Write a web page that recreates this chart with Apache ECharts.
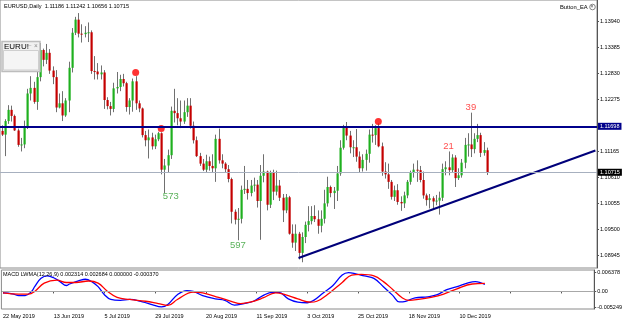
<!DOCTYPE html>
<html>
<head>
<meta charset="utf-8">
<title>EURUSD,Daily</title>
<script src="https://cdn.jsdelivr.net/npm/echarts@6/dist/echarts.min.js"></script>
<style>
html, body { margin: 0; padding: 0; background: #fff; }
#chart { width: 625px; height: 320px; }
</style>
</head>
<body>
<div id="chart"></div>
<script>
// ---------------- 数据 ----------------
// 日线 K 线: [open, high, low, close]，从 2019-05-22 开始
var candles = [
    [1.1160, 1.1172, 1.1149, 1.1152], [1.1152, 1.1185, 1.1106, 1.1181], [1.1181, 1.1215, 1.1175, 1.1205],
    [1.1205, 1.1214, 1.1180, 1.1192], [1.1192, 1.1195, 1.1160, 1.1161], [1.1161, 1.1165, 1.1126, 1.1130],
    [1.1130, 1.1145, 1.1116, 1.1131], [1.1131, 1.1182, 1.1123, 1.1170], [1.1170, 1.1250, 1.1164, 1.1240],
    [1.1240, 1.1277, 1.1225, 1.1252], [1.1252, 1.1265, 1.1218, 1.1222], [1.1222, 1.1289, 1.1205, 1.1275],
    [1.1275, 1.1348, 1.1266, 1.1333], [1.1333, 1.1336, 1.1298, 1.1312], [1.1312, 1.1346, 1.1303, 1.1327],
    [1.1327, 1.1335, 1.1282, 1.1289], [1.1289, 1.1298, 1.1260, 1.1275], [1.1275, 1.1290, 1.1200, 1.1210],
    [1.1210, 1.1240, 1.1208, 1.1219], [1.1219, 1.1245, 1.1181, 1.1193], [1.1193, 1.1230, 1.1190, 1.1225],
    [1.1225, 1.1308, 1.1200, 1.1295], [1.1295, 1.1380, 1.1285, 1.1370], [1.1370, 1.1404, 1.1365, 1.1398],
    [1.1398, 1.1412, 1.1360, 1.1368], [1.1368, 1.1388, 1.1349, 1.1367], [1.1367, 1.1384, 1.1360, 1.1370],
    [1.1370, 1.1392, 1.1350, 1.1371], [1.1371, 1.1375, 1.1282, 1.1288], [1.1288, 1.1320, 1.1270, 1.1287],
    [1.1287, 1.1305, 1.1270, 1.1281], [1.1281, 1.1300, 1.1270, 1.1285], [1.1285, 1.1290, 1.1207, 1.1226],
    [1.1226, 1.1232, 1.1206, 1.1213], [1.1213, 1.1222, 1.1193, 1.1207], [1.1207, 1.1263, 1.1200, 1.1251],
    [1.1251, 1.1286, 1.1240, 1.1254], [1.1254, 1.1280, 1.1245, 1.1271], [1.1271, 1.1282, 1.1255, 1.1262],
    [1.1262, 1.1265, 1.1201, 1.1211], [1.1211, 1.1230, 1.1195, 1.1225], [1.1225, 1.1272, 1.1201, 1.1266],
    [1.1266, 1.1277, 1.1205, 1.1219], [1.1219, 1.1225, 1.1200, 1.1208], [1.1208, 1.1210, 1.1146, 1.1151],
    [1.1151, 1.1160, 1.1127, 1.1140], [1.1140, 1.1163, 1.1101, 1.1146], [1.1146, 1.1156, 1.1120, 1.1127],
    [1.1127, 1.1152, 1.1121, 1.1142], [1.1142, 1.1158, 1.1138, 1.1155], [1.1155, 1.1157, 1.1067, 1.1077],
    [1.1077, 1.1100, 1.1027, 1.1086], [1.1086, 1.1120, 1.1070, 1.1108], [1.1108, 1.1212, 1.1100, 1.1203],
    [1.1203, 1.1250, 1.1178, 1.1198], [1.1198, 1.1230, 1.1172, 1.1187], [1.1187, 1.1225, 1.1166, 1.1180],
    [1.1180, 1.1225, 1.1175, 1.1200], [1.1200, 1.1230, 1.1190, 1.1214], [1.1214, 1.1230, 1.1165, 1.1171],
    [1.1171, 1.1180, 1.1133, 1.1140], [1.1140, 1.1148, 1.1104, 1.1106], [1.1106, 1.1113, 1.1085, 1.1090],
    [1.1090, 1.1100, 1.1074, 1.1077], [1.1077, 1.1109, 1.1070, 1.1095], [1.1095, 1.1105, 1.1075, 1.1085],
    [1.1085, 1.1110, 1.1070, 1.1080], [1.1080, 1.1152, 1.1051, 1.1143], [1.1143, 1.1165, 1.1090, 1.1097],
    [1.1097, 1.1110, 1.1080, 1.1090], [1.1090, 1.1093, 1.1072, 1.1078], [1.1078, 1.1087, 1.1050, 1.1057],
    [1.1057, 1.1060, 1.0962, 1.0987], [1.0987, 1.0992, 1.0960, 1.0970], [1.0970, 1.0995, 1.0926, 1.0972],
    [1.0972, 1.1043, 1.0962, 1.1034], [1.1034, 1.1085, 1.1025, 1.1036], [1.1036, 1.1055, 1.1013, 1.1027],
    [1.1027, 1.1055, 1.1020, 1.1043], [1.1043, 1.1060, 1.1030, 1.1045], [1.1045, 1.1055, 1.0996, 1.1010],
    [1.1010, 1.1087, 1.0927, 1.1064], [1.1064, 1.1110, 1.1050, 1.1073], [1.1073, 1.1075, 1.0990, 1.1002],
    [1.1002, 1.1075, 1.0995, 1.1071], [1.1071, 1.1077, 1.1012, 1.1030], [1.1030, 1.1075, 1.1022, 1.1043],
    [1.1043, 1.1055, 1.1010, 1.1017], [1.1017, 1.1025, 1.0965, 1.0990], [1.0990, 1.1025, 1.0984, 1.1018],
    [1.1018, 1.1021, 1.0938, 1.0940], [1.0940, 1.0960, 1.0910, 1.0921], [1.0921, 1.0960, 1.0903, 1.0940],
    [1.0940, 1.0944, 1.0885, 1.0899], [1.0899, 1.0943, 1.0879, 1.0933], [1.0933, 1.0966, 1.0920, 1.0959],
    [1.0959, 1.0999, 1.0945, 1.0967], [1.0967, 1.0999, 1.0960, 1.0978], [1.0978, 1.1001, 1.0965, 1.0971],
    [1.0971, 1.0990, 1.0940, 1.0957], [1.0957, 1.0990, 1.0943, 1.0972], [1.0972, 1.1034, 1.0962, 1.1005],
    [1.1005, 1.1062, 1.0998, 1.1040], [1.1040, 1.1043, 1.1018, 1.1027], [1.1027, 1.1040, 1.0993, 1.1032],
    [1.1032, 1.1085, 1.1010, 1.1069], [1.1069, 1.1140, 1.1064, 1.1124], [1.1124, 1.1173, 1.1120, 1.1168],
    [1.1168, 1.1179, 1.1140, 1.1150], [1.1150, 1.1160, 1.1112, 1.1125], [1.1125, 1.1140, 1.1104, 1.1125],
    [1.1125, 1.1164, 1.1094, 1.1105], [1.1105, 1.1116, 1.1072, 1.1080], [1.1080, 1.1110, 1.1073, 1.1098],
    [1.1098, 1.1120, 1.1075, 1.1111], [1.1111, 1.1163, 1.1092, 1.1152], [1.1152, 1.1175, 1.1135, 1.1151],
    [1.1151, 1.1172, 1.1130, 1.1166], [1.1166, 1.1176, 1.1125, 1.1127], [1.1127, 1.1135, 1.1064, 1.1073],
    [1.1073, 1.1093, 1.1058, 1.1067], [1.1067, 1.1090, 1.1036, 1.1051], [1.1051, 1.1055, 1.1013, 1.1019],
    [1.1019, 1.1043, 1.1010, 1.1033], [1.1033, 1.1046, 1.1002, 1.1008], [1.1008, 1.1020, 1.0989, 1.1005],
    [1.1005, 1.1030, 1.0995, 1.1022], [1.1022, 1.1055, 1.1016, 1.1051], [1.1051, 1.1075, 1.1045, 1.1071],
    [1.1071, 1.1090, 1.1060, 1.1077], [1.1077, 1.1097, 1.1051, 1.1076], [1.1076, 1.1085, 1.1050, 1.1055],
    [1.1055, 1.1073, 1.1015, 1.1022], [1.1022, 1.1026, 1.1000, 1.1012], [1.1012, 1.1025, 1.0994, 1.1016],
    [1.1016, 1.1020, 1.0991, 1.1009], [1.1009, 1.1023, 1.1001, 1.1011], [1.1011, 1.1030, 1.0981, 1.1017],
    [1.1017, 1.1090, 1.1010, 1.1078], [1.1078, 1.1095, 1.1065, 1.1082], [1.1082, 1.1116, 1.1065, 1.1076],
    [1.1076, 1.1110, 1.1071, 1.1103], [1.1103, 1.1108, 1.1040, 1.1059], [1.1059, 1.1080, 1.1055, 1.1065],
    [1.1065, 1.1100, 1.1060, 1.1092], [1.1092, 1.1145, 1.1080, 1.1130], [1.1130, 1.1155, 1.1105, 1.1131],
    [1.1131, 1.1199, 1.1104, 1.1121], [1.1121, 1.1155, 1.1112, 1.1143], [1.1143, 1.1175, 1.1136, 1.1151],
    [1.1151, 1.1156, 1.1104, 1.1113], [1.1113, 1.1136, 1.1107, 1.1119], [1.11186, 1.11242, 1.10656, 1.10715]
];

// 右侧价格刻度
var priceTicks = [1.08945, 1.09500, 1.10055, 1.10610, 1.11165, 1.12275, 1.12830, 1.13385, 1.13940];
var levelPrice = 1.11698;   // 水平阻力线
var bidPrice = 1.10715;     // 当前价

// 趋势线两端 [bar, price]
var trendPoints = [[93, 1.0888], [186, 1.1118]];

// 红点标记
var dotBars = [42, 50, 118];
var dotPrices = [1.1285, 1.1165, 1.1180];

// 计数标签
var greenText = ['573', '597'];
var greenBars = [53, 74];
var greenPrices = [1.1019, 1.0916];
var redText = ['21', '39'];
var redBars = [140, 147];
var redPrices = [1.1126, 1.1211];

// MACD LWMA(12,26,9)  [bar, value]
var macdMain = [
    [0, -0.0005], [3, -0.0008], [5, -0.0014], [7, -0.0014], [9, 0.0000], [10, 0.0016], [12, 0.0044],
    [14, 0.0052], [16, 0.0046], [18, 0.0033], [20, 0.0020], [21, 0.0025], [24, 0.0036], [26, 0.0041],
    [28, 0.0033], [30, 0.0016], [32, -0.0011], [34, -0.0027], [37, -0.0030], [40, -0.0027], [44, -0.0035],
    [47, -0.0044], [50, -0.0052], [52, -0.0044], [55, -0.0011], [58, 0.0003], [60, 0.0000], [63, -0.0014],
    [67, -0.0025], [70, -0.0030], [73, -0.0046], [76, -0.0041], [79, -0.0033], [82, -0.0014], [85, -0.0003],
    [87, -0.0003], [90, -0.0025], [93, -0.0036], [96, -0.0038], [98, -0.0030], [101, -0.0005], [104, 0.0019],
    [107, 0.0055], [109, 0.0063], [111, 0.0060], [114, 0.0052], [117, 0.0044], [120, 0.0016], [123, -0.0014],
    [125, -0.0035], [127, -0.0033], [130, -0.0022], [134, -0.0018], [137, -0.0011], [140, 0.0006],
    [144, 0.0019], [147, 0.0030], [149, 0.0033], [152, 0.002314]
];
var macdSignal = [
    [0, -0.0005], [5, -0.0009], [8, -0.0009], [10, 0.0000], [13, 0.0028], [17, 0.0038], [20, 0.0030],
    [23, 0.0030], [27, 0.0035], [30, 0.0028], [33, 0.0000], [36, -0.0020], [40, -0.0027], [45, -0.0033],
    [49, -0.0041], [52, -0.0047], [55, -0.0027], [60, -0.0002], [63, -0.0005], [68, -0.0020], [72, -0.0033],
    [75, -0.0041], [78, -0.0036], [82, -0.0022], [86, -0.0005], [89, -0.0011], [93, -0.0025], [97, -0.0036],
    [99, -0.0033], [103, -0.0005], [107, 0.0030], [110, 0.0055], [113, 0.0057], [117, 0.0052], [120, 0.0033],
    [123, 0.0006], [126, -0.0022], [128, -0.0030], [131, -0.0027], [135, -0.0020], [139, -0.0009],
    [143, 0.0008], [148, 0.0025], [152, 0.002684]
];
var macdTicks = [0.006378, 0, -0.005249];

// ---------------- 日期 ----------------
var monthNames = ['Jan', 'Feb', 'Mar', 'Apr', 'May', 'Jun', 'Jul', 'Aug', 'Sep', 'Oct', 'Nov', 'Dec'];
var dates = [];
for (var t = Date.UTC(2019, 4, 22); dates.length < candles.length; t += 86400000) {
    var d = new Date(t);
    if (d.getUTCDay() === 0 || d.getUTCDay() === 6) continue;
    dates.push(d.getUTCDate() + ' ' + monthNames[d.getUTCMonth()] + ' ' + d.getUTCFullYear());
}
var emptySlots = 34; // 右侧留白，趋势线延伸
var categories = dates.concat(new Array(emptySlots).fill(''));

var font = '"Liberation Sans", Arial, sans-serif';
var small = 5.5;

var candleData = candles.map(function (r, i) {
    return [i, r[0], r[1], r[2], r[3]];
});

function renderCandle(params, api) {
    var i = api.value(0);
    var o = api.value(1), h = api.value(2), l = api.value(3), c = api.value(4);
    var pH = api.coord([i, h]), pL = api.coord([i, l]);
    var pO = api.coord([i, o]), pC = api.coord([i, c]);
    var x = Math.round(pH[0]);
    var y1 = Math.min(pO[1], pC[1]), y2 = Math.max(pO[1], pC[1]);
    var up = c >= o;
    return {
        type: 'group',
        children: [{
            type: 'line',
            shape: { x1: x + 0.5, y1: pH[1], x2: x + 0.5, y2: pL[1] },
            style: { stroke: '#707070', lineWidth: 1 }
        }, {
            type: 'rect',
            shape: { x: x - 0.5, y: y1, width: 2.2, height: Math.max(y2 - y1, 1) },
            style: { fill: up ? '#1fb01f' : '#c40000' }
        }]
    };
}

var chart = echarts.init(document.getElementById('chart'));

var option = {
    animation: false,
    backgroundColor: '#fff',
    textStyle: { fontFamily: font },
    grid: [
        { left: 0, right: 28, top: 0, height: 268, show: true, borderColor: '#8a8a8a', borderWidth: 1 },
        { left: 0, right: 28, top: 270, height: 39, show: true, borderColor: '#8a8a8a', borderWidth: 1 }
    ],
    xAxis: [{
        type: 'category',
        gridIndex: 0,
        data: categories,
        boundaryGap: true,
        axisLine: { show: false },
        axisTick: { show: false },
        axisLabel: { show: false },
        splitLine: { show: false }
    }, {
        type: 'category',
        gridIndex: 1,
        data: categories,
        boundaryGap: true,
        axisLine: { show: true, lineStyle: { color: '#555' } },
        axisTick: { show: true, interval: 15, alignWithLabel: true, length: 2, lineStyle: { color: '#555' } },
        axisLabel: { interval: 15, align: 'left', fontSize: small, color: '#000', margin: 4, fontFamily: font },
        splitLine: { show: false }
    }],
    yAxis: [{
        type: 'value',
        gridIndex: 0,
        position: 'right',
        min: 1.08667,
        max: 1.14400,
        axisLine: { show: true, lineStyle: { color: '#555' } },
        axisTick: { show: true, length: 2, customValues: priceTicks, lineStyle: { color: '#555' } },
        axisLabel: {
            customValues: priceTicks,
            formatter: function (v) { return v.toFixed(5); },
            fontSize: small, color: '#000', margin: 3, fontFamily: font
        },
        splitLine: { show: false }
    }, {
        type: 'value',
        gridIndex: 1,
        position: 'right',
        min: -0.0059,
        max: 0.0072,
        axisLine: { show: true, lineStyle: { color: '#555' } },
        axisTick: { show: true, length: 2, customValues: macdTicks, lineStyle: { color: '#555' } },
        axisLabel: {
            customValues: macdTicks,
            formatter: function (v) { return v === 0 ? '0.00' : v.toFixed(6); },
            fontSize: small, color: '#000', margin: 3, fontFamily: font
        },
        splitLine: { show: false }
    }],
    series: [{
        name: 'EURUSD',
        type: 'custom',
        xAxisIndex: 0,
        yAxisIndex: 0,
        renderItem: renderCandle,
        encode: { x: 0, y: [1, 2, 3, 4] },
        data: candleData,
        clip: true,
        silent: true
    }, {
        name: '趋势线',
        type: 'line',
        xAxisIndex: 0,
        yAxisIndex: 0,
        data: trendPoints,
        symbol: 'none',
        silent: true,
        lineStyle: { color: '#00007a', width: 2 },
        markLine: {
            symbol: 'none',
            silent: true,
            precision: 5,
            data: [{
                yAxis: levelPrice,
                lineStyle: { color: '#00008b', width: 2, type: 'solid' },
                label: {
                    show: true, position: 'end', distance: 1,
                    formatter: levelPrice.toFixed(5),
                    backgroundColor: '#00008b', color: '#fff',
                    padding: [1, 2, 0, 2], fontSize: small, fontFamily: font
                }
            }, {
                yAxis: bidPrice,
                lineStyle: { color: '#a7b0bf', width: 1, type: 'solid' },
                label: {
                    show: true, position: 'end', distance: 1,
                    formatter: bidPrice.toFixed(5),
                    backgroundColor: '#000', color: '#fff',
                    padding: [1, 2, 0, 2], fontSize: small, fontFamily: font
                }
            }]
        }
    }, {
        name: '红点',
        type: 'scatter',
        xAxisIndex: 0,
        yAxisIndex: 0,
        data: dotBars.map(function (b, k) { return [b, dotPrices[k]]; }),
        symbolSize: 7,
        itemStyle: { color: '#ff0000' },
        silent: true
    }, {
        name: '计数-绿',
        type: 'scatter',
        xAxisIndex: 0,
        yAxisIndex: 0,
        data: greenBars.map(function (b, k) { return { value: [b, greenPrices[k]], name: greenText[k] }; }),
        symbolSize: 1,
        itemStyle: { color: 'rgba(0,0,0,0)' },
        label: {
            show: true, position: 'inside', formatter: '{b}',
            color: '#2f9e2f', fontSize: 9.5, fontFamily: font
        },
        silent: true
    }, {
        name: '计数-红',
        type: 'scatter',
        xAxisIndex: 0,
        yAxisIndex: 0,
        data: redBars.map(function (b, k) { return { value: [b, redPrices[k]], name: redText[k] }; }),
        symbolSize: 1,
        itemStyle: { color: 'rgba(0,0,0,0)' },
        label: {
            show: true, position: 'inside', formatter: '{b}',
            color: '#ff2020', fontSize: 9.5, fontFamily: font
        },
        silent: true
    }, {
        name: 'MACD',
        type: 'line',
        xAxisIndex: 1,
        yAxisIndex: 1,
        data: macdMain,
        smooth: 0.4,
        symbol: 'none',
        lineStyle: { color: '#0000ff', width: 1.3 },
        markLine: {
            symbol: 'none',
            silent: true,
            label: { show: false },
            data: [{ yAxis: 0, lineStyle: { color: '#a8a8a8', width: 1, type: 'solid' } }]
        },
        silent: true
    }, {
        name: 'Signal',
        type: 'line',
        xAxisIndex: 1,
        yAxisIndex: 1,
        data: macdSignal,
        smooth: 0.4,
        symbol: 'none',
        lineStyle: { color: '#ff0000', width: 1.3 },
        silent: true
    }],
    graphic: [{
        type: 'text', left: 4, top: 3, z: 100,
        style: { text: 'EURUSD,Daily  1.11186 1.11242 1.10656 1.10715', fontSize: 5.6, fill: '#000', fontFamily: font }
    }, {
        type: 'text', left: 560, top: 4, z: 100,
        style: { text: 'Button_EA', fontSize: 5.8, fill: '#000', fontFamily: font }
    }, {
        type: 'circle', z: 100,
        shape: { cx: 592.5, cy: 7, r: 2.8 },
        style: { fill: '#fff', stroke: '#666', lineWidth: 0.8 }
    }, {
        type: 'text', left: 590.6, top: 4.3, z: 101,
        style: { text: '×', fontSize: 5, fill: '#444', fontFamily: font }
    }, {
        // EA 面板
        type: 'rect', z: 100,
        shape: { x: 2, y: 41.5, width: 38, height: 30 },
        style: { fill: '#f0f0f0', stroke: '#bdbdbd', lineWidth: 1.5 }
    }, {
        type: 'rect', z: 101,
        shape: { x: 3.5, y: 50.5, width: 35, height: 19.5 },
        style: { fill: '#f5f5f5', stroke: '#cfcfcf', lineWidth: 1 }
    }, {
        type: 'text', left: 4, top: 42.5, z: 102,
        style: { text: 'EURU!', fontSize: 8, fill: '#000', fontFamily: font }
    }, {
        type: 'text', left: 28, top: 42, z: 102,
        style: { text: '–', fontSize: 6, fill: '#999', fontFamily: font }
    }, {
        type: 'text', left: 34, top: 42.5, z: 102,
        style: { text: '×', fontSize: 6.5, fill: '#888', fontFamily: font }
    }, {
        type: 'text', left: 3, top: 271.5, z: 100,
        style: { text: 'MACD LWMA(12,26,9) 0.002314 0.002684 0.000000 -0.000370', fontSize: 5.5, fill: '#000', fontFamily: font }
    }]
};

chart.setOption(option);
</script>
</body>
</html>
